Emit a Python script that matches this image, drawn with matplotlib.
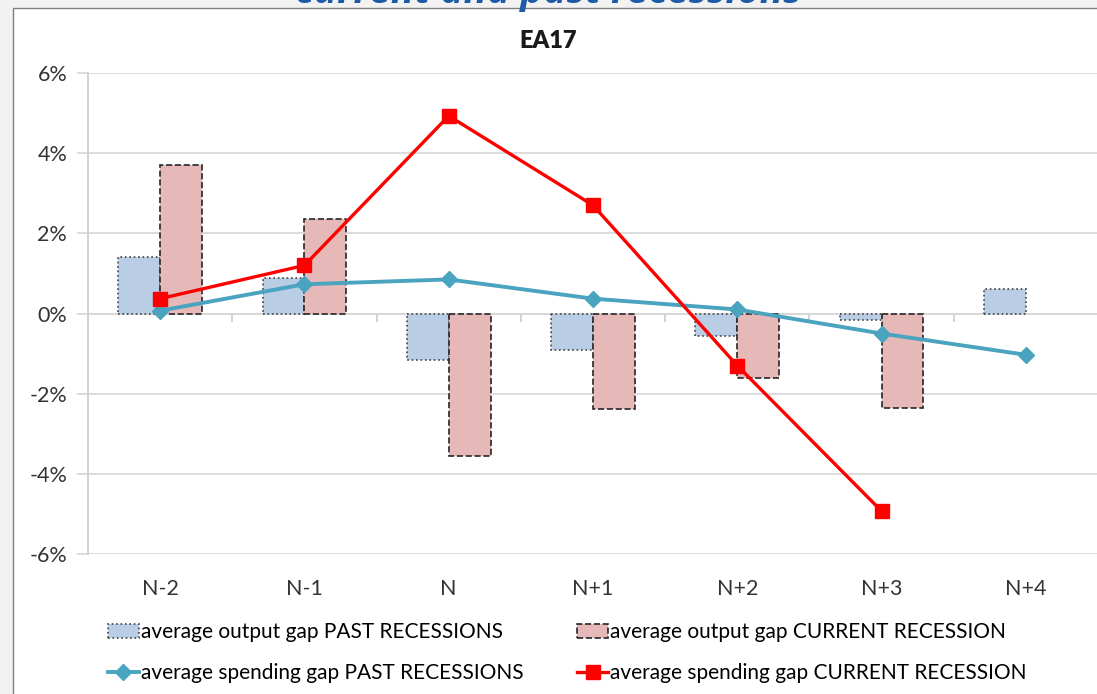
import numpy as np
import matplotlib.pyplot as plt
from matplotlib.patches import Rectangle

categories = ["N-2", "N-1", "N", "N+1", "N+2", "N+3", "N+4"]
output_past = [1.40, 0.88, -1.15, -0.90, -0.57, -0.15, 0.60]
output_current = [3.70, 2.35, -3.55, -2.38, -1.60, -2.37, np.nan]
spending_past = [0.07, 0.73, 0.85, 0.37, 0.10, -0.50, -1.03]
spending_current = [0.37, 1.20, 4.93, 2.70, -1.30, -4.93, np.nan]
yticks = [-6, -4, -2, 0, 2, 4, 6]

plt.rcParams['font.family'] = ['Lato', 'DejaVu Sans']

fig = plt.figure(figsize=(10.97, 6.94), dpi=100)
fig.patch.set_facecolor('#f2f2f2')

# chart frame (white box with thin border)
frame = Rectangle((13 / 1097, -0.05), 1.1, 1 - 8 / 694 + 0.05, transform=fig.transFigure,
                  facecolor='white', edgecolor='#7f7f7f', linewidth=1.0, zorder=-10)
fig.patches.append(frame)

# slide title, cut off at the top of the picture
fig.text(0.5, 1 - 3 / 694, "current and past recessions", ha='center', va='baseline',
         fontsize=28, fontweight='bold', style='italic', color='#1f5aa6',
         family=['Open Sans', 'DejaVu Sans'], zorder=-5)

ax = fig.add_axes([88 / 1097, 1 - 554 / 694, 1010 / 1097, 481 / 694])
ax.set_facecolor('none')

x = np.arange(len(categories))
w = 0.29
b1 = ax.bar(x - w / 2, output_past, w, color='#b9cde5', edgecolor='#404040',
            linestyle=':', linewidth=1.2, zorder=2,
            label='average output gap PAST RECESSIONS')
b2 = ax.bar(x + w / 2, output_current, w, color='#e6b9b8', edgecolor='#262626',
            linestyle='--', linewidth=1.2, zorder=2,
            label='average output gap CURRENT RECESSION')
l1, = ax.plot(x, spending_past, color='#4aa3bf', marker='D', markersize=8,
              linewidth=2.8, zorder=3, label='average spending gap PAST RECESSIONS')
l2, = ax.plot(x, spending_current, color='#ff0000', marker='s', markersize=10,
              linewidth=2.4, zorder=4, label='average spending gap CURRENT RECESSION')

ax.set_xlim(-0.5, len(categories) - 0.5)
ax.set_ylim(-6, 6)
ax.set_yticks(yticks)
ax.set_yticklabels([f"{v}%" for v in yticks])
ax.grid(axis='y', color='#d9d9d9', linewidth=1.3, zorder=0)
ax.set_axisbelow(True)
for s in ['top', 'right', 'bottom']:
    ax.spines[s].set_visible(False)
ax.spines['left'].set_color('#d0d0d0')
ax.spines['left'].set_linewidth(1.3)
ax.tick_params(axis='y', length=8, color='#d9d9d9', width=1.3, labelsize=15.5,
               labelcolor='#333333', pad=7)
ax.set_xticks(x)
ax.set_xticklabels(categories)
ax.tick_params(axis='x', length=0, labelsize=15.5, labelcolor='#333333', pad=18)

# category axis crossing at zero with boundary ticks
zero_axis = ax.secondary_xaxis(0, transform=ax.transData)
zero_axis.set_xticks(np.arange(len(categories) + 1) - 0.5)
zero_axis.set_xticklabels([])
zero_axis.tick_params(length=6, color='#d0d0d0', width=1.3)
zero_axis.spines['bottom'].set_color('#d0d0d0')
zero_axis.spines['bottom'].set_linewidth(1.3)

ax.set_title("EA17", fontsize=17, fontweight='heavy', color='#1a1a1a',
             x=(548 - 88) / 1010, y=1.0, pad=18)

fig.legend([b1, l1, b2, l2], [b1.get_label(), l1.get_label(), b2.get_label(), l2.get_label()],
           ncol=2, loc='upper left', bbox_to_anchor=(100 / 1097, 1 - 614 / 694),
           frameon=False, fontsize=15, handlelength=1.45, handletextpad=0.1,
           columnspacing=2.6, labelspacing=1.0, borderaxespad=0)

fig.savefig('out.png', dpi=100)
